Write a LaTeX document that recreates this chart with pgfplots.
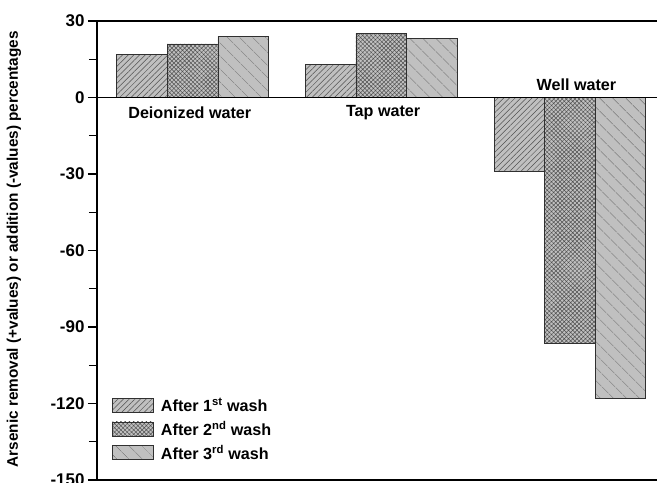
\documentclass[border=0pt]{standalone}
\usepackage{pgfplots}
\pgfplotsset{compat=1.18}
\usepackage{fontspec}
\setmainfont{Liberation Sans}
\usetikzlibrary{patterns.meta}
\definecolor{barfill}{HTML}{C0C0C0}
\definecolor{patcol}{HTML}{505050}
\definecolor{edgecol}{HTML}{303030}
\newcommand{\lblfont}{\bfseries\fontsize{16.2}{19}\selectfont}
\newcommand{\tckfont}{\bfseries\fontsize{17}{20}\selectfont}
\begin{document}
\begin{tikzpicture}
\begin{axis}[
  scale only axis,
  width=560bp, height=459bp,
  xmin=-0.507, xmax=2.462,
  ymin=-150, ymax=30,
  axis x line=box, axis y line=left,
  axis line style={line width=1.6pt, -},
  xtick=\empty,
  ytick={-150,-120,-90,-60,-30,0,30},
  minor ytick={-135,-105,-75,-45,-15,15},
  tick align=outside,
  major tick length=9bp, minor tick length=8bp,
  every tick/.style={line width=1.2pt, black},
  ytick pos=left,
  yticklabel style={font=\tckfont, xshift=0bp},
  /pgf/number format/assume math mode=true,
  ylabel={Arsenic removal (+values) or addition (-values) percentages},
  ylabel style={font=\bfseries\fontsize{15.4}{18}\selectfont, at={([xshift=-83bp]axis description cs:0,0.503)}, anchor=center},
  ybar, bar width=0.268,
  legend style={at={([xshift=15bp,yshift=17bp]axis description cs:0,0)}, anchor=south west, draw=none, fill=none, font=\lblfont, row sep=4bp, inner sep=0pt,
    /tikz/every odd column/.append style={column sep=5bp}},
  legend cell align=left,
  legend image code/.code={\draw[#1] (0bp,-7bp) rectangle (41bp,7bp);},
]
\addplot[draw=edgecol, line width=0.8pt, fill=barfill, bar shift=-0.268,
  postaction={pattern={Lines[angle=45,distance=4bp,line width=0.5pt]}, pattern color=patcol}]
  coordinates {(0,17) (1,13) (2,-29)};
\addplot[draw=edgecol, line width=0.8pt, fill=barfill, bar shift=0,
  postaction={pattern={Hatch[angle=45,distance=3bp,line width=0.5pt]}, pattern color=patcol}]
  coordinates {(0,21) (1,25) (2,-96.5)};
\addplot[draw=edgecol, line width=0.8pt, fill=barfill, bar shift=0.268,
  postaction={pattern={Lines[angle=-45,distance=10bp,line width=0.5pt]}, pattern color=patcol}]
  coordinates {(0,24) (1,23) (2,-118)};
\legend{After 1\textsuperscript{st} wash, After 2\textsuperscript{nd} wash, After 3\textsuperscript{rd} wash}
\draw[line width=1.2pt] ({rel axis cs:0,0}|-{axis cs:0,0}) -- ({rel axis cs:1,0}|-{axis cs:0,0});
\node[font=\lblfont] at (axis cs:-0.015,-6) {Deionized water};
\node[font=\lblfont] at (axis cs:1.01,-6) {Tap water};
\node[font=\lblfont] at (axis cs:2.035,4.9) {Well water};
\end{axis}
\pgfresetboundingbox
\path ([xshift=-97bp,yshift=-3bp]current axis.south west) rectangle ([yshift=21bp]current axis.north east);
\end{tikzpicture}
\end{document}
